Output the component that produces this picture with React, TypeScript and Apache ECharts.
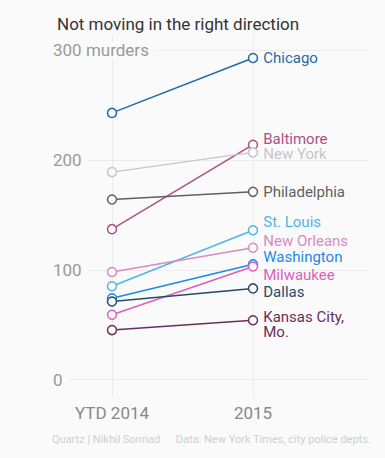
import React, { useEffect, useRef } from "react";
import * as echarts from "echarts";

const periods = ["YTD 2014", "2015"];
const cities = ["Chicago", "Baltimore", "New York", "Philadelphia", "St. Louis", "New Orleans", "Washington", "Milwaukee", "Dallas", "Kansas City,\nMo."];
const values2014 = [243, 137, 189, 164, 85, 98, 74, 59, 71, 45];
const values2015 = [293, 214, 207, 171, 136, 120, 105, 103, 83, 54];
const yTicks = [0, 100, 200, 300];

const colors = ["#1f6aa6", "#ad4f88", "#c6c6c6", "#5f5f5f", "#4eb5e6", "#d88cbe", "#1c8adf", "#dc5fbf", "#1f4d6c", "#6a2f58"];
const labelOffsets = [0, -6, 2, 0, -8, -7, -7, 9, 4, 4];

const BG = "#fafafa";
const FONT = "Roboto";

export default function App() {
  const ref = useRef<HTMLDivElement>(null);
  useEffect(() => {
    document.body.style.margin = "0";
    document.body.style.background = BG;
    const chart = echarts.init(ref.current!, null, { renderer: "svg" });
    const series = cities.map((name, i) => ({
      type: "line",
      name,
      xAxisIndex: 0,
      yAxisIndex: 0,
      data: [
        { value: values2014[i] },
        {
          value: values2015[i],
          label: {
            show: true,
            position: "right",
            distance: 5,
            offset: [0, labelOffsets[i]],
            formatter: name,
            color: colors[i],
            fontSize: 15,
            lineHeight: 15,
            fontFamily: FONT,
          },
        },
      ],
      symbol: "circle",
      symbolSize: 9,
      lineStyle: { color: colors[i], width: 1.5 },
      itemStyle: { color: BG, borderColor: colors[i], borderWidth: 1.5 },
      z: 3,
    }));
    chart.setOption({
      animation: false,
      backgroundColor: BG,
      textStyle: { fontFamily: FONT },
      title: {
        text: "Not moving in the right direction",
        left: 52,
        top: 10,
        textStyle: { fontSize: 17, fontWeight: "normal", color: "#333", fontFamily: FONT },
      },
      grid: [
        { left: 112, right: 132, top: 35, bottom: 61 },
        { left: 53, right: 17, top: 50.4, bottom: 78.5 },
      ],
      xAxis: [
        {
          type: "category",
          gridIndex: 0,
          data: periods,
          boundaryGap: false,
          axisLine: { show: false },
          axisTick: { show: false },
          splitLine: { show: true, lineStyle: { color: "#ececec", width: 1 } },
          axisLabel: { color: "#888", fontSize: 17, margin: 7, fontFamily: FONT },
        },
        { type: "value", gridIndex: 1, show: false, min: 0, max: 1 },
      ],
      yAxis: [
        { type: "value", gridIndex: 0, show: false, min: -16, max: 314 },
        {
          type: "value",
          gridIndex: 1,
          min: yTicks[0],
          max: yTicks[yTicks.length - 1],
          interval: 100,
          axisLine: { show: false },
          axisTick: { show: false },
          splitLine: { show: true, lineStyle: { color: "#ececec", width: 1 } },
          axisLabel: {
            inside: true,
            margin: 0,
            color: "#999",
            fontSize: 17,
            fontFamily: FONT,
            backgroundColor: BG,
            padding: [0, 6, 0, 0],
            formatter: (v: number) => (v === 300 ? "300 murders" : String(v)),
          },
          z: 1,
        },
      ],
      graphic: [
        {
          type: "text",
          left: 52,
          top: 434,
          style: { text: "Quartz | Nikhil Sonnad", fill: "#cfcfcf", fontSize: 11, fontFamily: FONT },
        },
        {
          type: "text",
          right: 14,
          top: 434,
          style: { text: "Data: New York Times, city police depts.", fill: "#cfcfcf", fontSize: 11, fontFamily: FONT },
        },
      ],
      series,
    });
    return () => chart.dispose();
  }, []);
  return <div ref={ref} style={{ width: 385, height: 458 }} />;
}
